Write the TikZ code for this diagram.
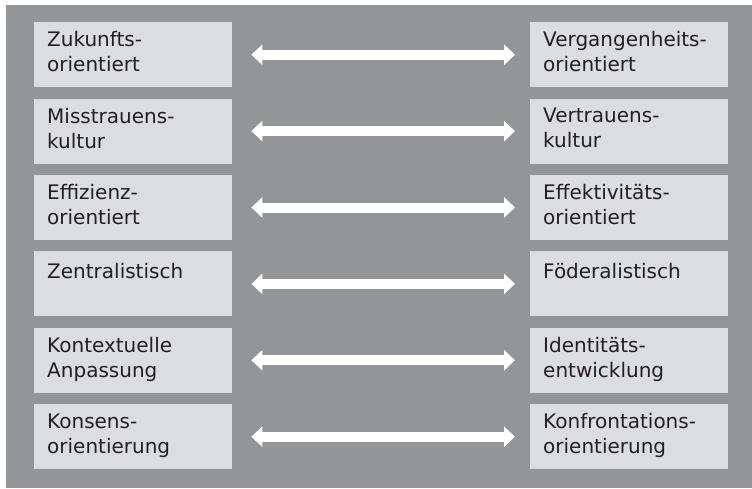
\documentclass[tikz,border=0pt]{standalone}
\usepackage{fontspec}
\setmainfont{DejaVu Sans}
\usetikzlibrary{arrows.meta}
\definecolor{framegray}{HTML}{939598}
\definecolor{boxgray}{HTML}{DCDDDF}
\definecolor{textdark}{HTML}{231F20}
\tikzset{
  pole/.style={fill=boxgray, minimum width=198pt, minimum height=65pt, inner sep=0pt, anchor=north west},
  poletext/.style={anchor=north west, align=left, inner sep=0pt, text=textdark, font=\fontsize{20}{25}\selectfont, execute at begin node=\strut},
  span/.style={{Triangle[length=11pt,width=20pt]}-{Triangle[length=11pt,width=20pt]}, line width=10pt, draw=white},
}

\begin{document}
\begin{tikzpicture}[x=1pt,y=-1pt]
\useasboundingbox (0,0) rectangle (752,488);
\fill[framegray] (6,5) rectangle (752,488);
\foreach \i/\lt/\rt in {
  0/{Zukunfts-\\orientiert}/{Vergangenheits-\\orientiert},
  1/{Misstrauens-\\kultur}/{Vertrauens-\\kultur},
  2/{Effizienz-\\orientiert}/{Effektivitäts-\\orientiert},
  3/{Zentralistisch}/{Föderalistisch},
  4/{Kontextuelle\\Anpassung}/{Identitäts-\\entwicklung},
  5/{Konsens-\\orientierung}/{Konfrontations-\\orientierung}}{
  \node[pole] (l\i) at (34,22+76.4*\i) {};
  \node[pole] (r\i) at (530,22+76.4*\i) {};
  \node[poletext] (lt\i) at ([xshift=13pt,yshift=-9.5pt]l\i.north west) {\lt};
  \node[poletext] (rt\i) at ([xshift=13pt,yshift=-9.5pt]r\i.north west) {\rt};
  \draw[span] ([xshift=19pt]l\i.east) -- ([xshift=-15pt]r\i.west);
}
\end{tikzpicture}
\end{document}
